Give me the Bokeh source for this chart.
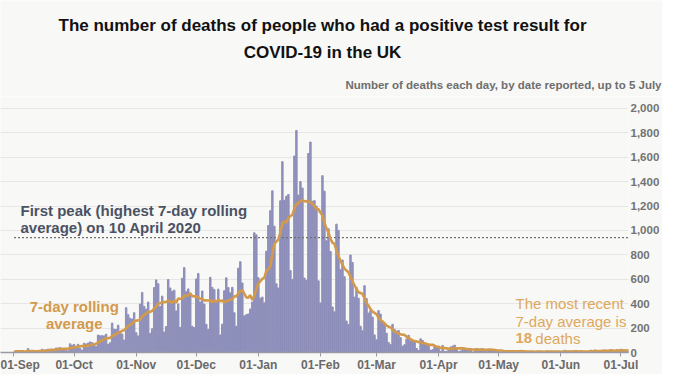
import pandas as pd
from bokeh.plotting import figure
from bokeh.layouts import column
from bokeh.models import FixedTicker, NumeralTickFormatter, Label, ColumnDataSource
from bokeh.embed import file_html
from bokeh.resources import INLINE

# ---------------- data ----------------
start_date = "2020-09-01"
end_date = "2021-07-05"

# daily deaths reported (weeks run Tue..Mon)
deaths = [
    3, 16, 12, 10, 12, 2, 3,
    32, 8, 14, 6, 10, 5, 9,
    27, 20, 21, 27, 27, 18, 11,
    37, 37, 40, 34, 34, 17, 13,
    71, 59, 66, 49, 67, 33, 19,
    76, 70, 77, 87, 81, 65, 50,
    143, 137, 138, 136, 150, 67, 80,
    241, 191, 189, 224, 174, 151, 102,
    367, 310, 280, 274, 326, 162, 136,
    397, 492, 378, 355, 413, 156, 194,
    532, 595, 563, 376, 462, 168, 213,
    598, 529, 501, 511, 341, 398, 206,
    608, 696, 498, 521, 479, 215, 205,
    603, 648, 414, 504, 397, 231, 189,
    616, 533, 516, 424, 519, 144, 232,
    506, 612, 532, 489, 534, 326, 215,
    691, 744, 570, 300, 310, 316, 357,
    414, 981, 964, 613, 445, 454, 407,
    830, 1041, 1162, 1325, 1035, 563, 529,
    1243, 1564, 1248, 1280, 1295, 671, 599,
    1610, 1820, 1290, 1401, 1348, 610, 592,
    1631, 1725, 1239, 1245, 1200, 587, 406,
    1449, 1322, 915, 1014, 828, 373, 333,
    1052, 1001, 678, 758, 621, 258, 230,
    799, 738, 454, 533, 445, 215, 178,
    548, 442, 323, 345, 290, 144, 104,
    343, 315, 242, 236, 158, 82, 65,
    231, 190, 175, 181, 121, 52, 64,
    110, 141, 95, 101, 96, 33, 17,
    112, 98, 70, 63, 58, 19, 23,
    56, 43, 52, 10, 58, 10, 9,
    26, 45, 53, 60, 34, 7, 13,
    23, 33, 30, 34, 32, 4, 10,
    33, 22, 29, 32, 24, 7, 17,
    29, 23, 12, 15, 14, 1, 4,
    5, 12, 14, 13, 17, 5, 4,
    11, 15, 7, 7, 7, 4, 4,
    7, 9, 10, 12, 7, 0, 1,
    14, 7, 10, 9, 8, 0, 1,
    0, 12, 18, 11, 12, 5, 4,
    12, 7, 9, 15, 6, 8, 3,
    9, 19, 11, 21, 14, 6, 5,
    19, 19, 16, 18, 23, 5, 3,
    23, 19, 27, 21, 18, 9, 9,
]
first_peak = 942
recent_avg = 18
month_labels = ["01-Sep", "01-Oct", "01-Nov", "01-Dec", "01-Jan", "01-Feb",
                "01-Mar", "01-Apr", "01-May", "01-Jun", "01-Jul"]
y_ticks = [0, 200, 400, 600, 800, 1000, 1200, 1400, 1600, 1800, 2000]

title_line1 = "The number of deaths of people who had a positive test result for"
title_line2 = "COVID-19 in the UK"
subtitle = "Number of deaths each day, by date reported, up to 5 July"

# ---------------- derived ----------------
dates = pd.date_range(start_date, end_date, freq="D")
idx = list(range(len(dates)))
avg = pd.Series(deaths).rolling(7, min_periods=1).mean().tolist()
month_idx = [i for i, d in enumerate(dates) if d.day == 1]
src = ColumnDataSource(dict(i=idx, deaths=deaths, avg=avg))

BAR = "#8e8fba"
ORANGE = "#d39a4c"
ORANGE_LIGHT = "#dea85e"
BG = "#f8f8f6"
FONT = "Liberation Sans"
W = 662
HEAD_H = 96
CHART_H = 278

# ---------------- heading strip ----------------
head = figure(width=W, height=HEAD_H, x_range=(0, W), y_range=(0, HEAD_H),
              x_axis_location=None, y_axis_location=None,
              toolbar_location=None, output_backend="svg",
              min_border_left=0, min_border_right=0, min_border_top=0, min_border_bottom=0)
head.background_fill_color = BG
head.border_fill_color = BG
head.outline_line_color = None
head.grid.grid_line_color = None

aligned_ok = "frame_align" in head.properties()
if aligned_ok:
    head.frame_align = False


def hlab(x, y, text, size, color, style, align):
    head.add_layout(Label(x=x, y=y, text=text, text_font=FONT, text_font_size=size,
                          text_color=color, text_font_style=style, text_align=align,
                          text_baseline="middle"))


hlab(322, HEAD_H - 25, title_line1, "17px", "#111111", "bold", "center")
hlab(322, HEAD_H - 52, title_line2, "17px", "#111111", "bold", "center")
hlab(661, HEAD_H - 84, subtitle, "11.5px", "#6e6e6e", "bold", "right")

# ---------------- chart ----------------
p = figure(width=W, height=CHART_H, x_range=(-6.73, 306.8), y_range=(0, 2098),
           y_axis_location="right", toolbar_location=None, output_backend="svg",
           min_border_left=0, min_border_top=0, min_border_bottom=22, min_border_right=30)
if aligned_ok:
    p.frame_align = False
p.background_fill_color = BG
p.border_fill_color = BG
p.outline_line_color = None

p.xgrid.grid_line_color = None
p.ygrid.grid_line_color = "#e6e6e6"
p.ygrid.grid_line_width = 1

p.yaxis.ticker = FixedTicker(ticks=y_ticks)
p.yaxis.formatter = NumeralTickFormatter(format="0,0")
p.yaxis.axis_line_color = None
p.yaxis.major_tick_line_color = None
p.yaxis.minor_tick_line_color = None
p.yaxis.major_tick_out = 0
p.yaxis.major_tick_in = 0
p.yaxis.minor_tick_out = 0
p.yaxis.minor_tick_in = 0
p.yaxis.major_label_standoff = 2
p.yaxis.major_label_text_font = FONT
p.yaxis.major_label_text_font_style = "bold"
p.yaxis.major_label_text_font_size = "11.5px"
p.yaxis.major_label_text_color = "#737373"

p.xaxis.ticker = FixedTicker(ticks=month_idx)
p.xaxis.major_label_overrides = {m: lab for m, lab in zip(month_idx, month_labels)}
p.xaxis.axis_line_color = "#9a9aa6"
p.xaxis.axis_line_width = 1.5
p.xaxis.major_tick_line_color = "#9a9aa6"
p.xaxis.major_tick_out = 4
p.xaxis.major_tick_in = 0
p.xaxis.minor_tick_line_color = None
p.xaxis.minor_tick_out = 0
p.xaxis.major_label_standoff = 1
p.xaxis.major_label_text_font = FONT
p.xaxis.major_label_text_font_style = "bold"
p.xaxis.major_label_text_font_size = "12px"
p.xaxis.major_label_text_color = "#6a6a6a"

p.vbar(x="i", top="deaths", width=0.72, color=BAR, source=src)
p.line(x=[idx[0], idx[-1]], y=[first_peak, first_peak], line_color="#707070",
       line_width=1.3, line_dash="2 2")
p.line(x="i", y="avg", line_color=ORANGE, line_width=2.6, source=src)


def lab(x, y, text, size, color, style="normal", align="left"):
    p.add_layout(Label(x=x, y=y, text=text, text_font=FONT, text_font_size=size,
                       text_color=color, text_font_style=style, text_align=align,
                       text_baseline="middle"))


lab(3.24, 1160, "First peak (highest 7-day rolling", "15px", "#4b5263", "bold")
lab(3.24, 1021, "average) on 10 April 2020", "15px", "#4b5263", "bold")

lab(30.1, 377, "7-day rolling", "15px", ORANGE, "bold", "center")
lab(30.1, 238, "average", "15px", ORANGE, "bold", "center")

lab(250.4, 402, "The most recent", "15px", ORANGE_LIGHT)
lab(250.4, 254, "7-day average is", "15px", ORANGE_LIGHT)
lab(250.4, 115, str(recent_avg), "15px", ORANGE_LIGHT, "bold")
lab(260.3, 115, "deaths", "15px", ORANGE_LIGHT)

layout = column(head, p, spacing=0)
open("out.html", "w").write(file_html(layout, INLINE))
